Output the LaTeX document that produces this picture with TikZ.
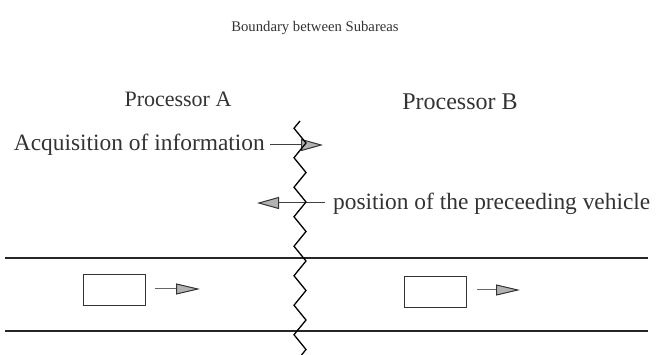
\documentclass[tikz,border=0pt]{standalone}
\usepackage{fontspec}
\setmainfont{Liberation Serif}
\usetikzlibrary{arrows.meta}
\begin{document}
\begin{tikzpicture}[x=1pt,y=-1pt,
  lbl/.style={inner sep=0pt, text=black!80},
  road/.style={line width=1.1pt, black!85},
  zig/.style={line width=1.3pt, black, line join=miter},
  bigarrow/.style={line width=1pt, black!75, -{Triangle[length=22pt,width=12pt,fill=gray!60,color=black!80]}},
  cararrow/.style={line width=1pt, black!60, -{Triangle[length=24pt,width=11pt,fill=gray!60,color=black!80]}},
  car/.style={draw=black!80, line width=1pt, minimum width=62pt, minimum height=31pt, inner sep=0pt}]
\useasboundingbox (0,0) rectangle (657,355);

% titles
\node[lbl, font=\fontsize{14.7}{16}\selectfont] (title) at (315,28) {Boundary between Subareas};
\node[lbl, font=\fontsize{22}{24}\selectfont] (procA) at (178,99) {Processor A};
\node[lbl, font=\fontsize{24}{26}\selectfont] (procB) at (460,102) {Processor B};

% messages
\node[lbl, font=\fontsize{23.4}{25}\selectfont, anchor=east] (acq) at (265,145) {Acquisition of information};
\node[lbl, font=\fontsize{23.4}{25}\selectfont, anchor=west] (pos) at (333,204) {position of the preceeding vehicle};

\coordinate (acqS) at (270,145);
\coordinate (acqE) at (323,145);
\coordinate (posS) at (325,203);
\coordinate (posE) at (257,203);
\draw[bigarrow] (acqS) -- (acqE);
\draw[bigarrow] (posS) -- (posE);

% road
\coordinate (r1a) at (5,258);  \coordinate (r1b) at (648,258);
\coordinate (r2a) at (5,331);  \coordinate (r2b) at (648,331);
\draw[road] (r1a) -- (r1b);
\draw[road] (r2a) -- (r2b);

% vehicles
\node[car] (carA) at (114,290.5) {};
\node[car] (carB) at (435.5,292) {};
\coordinate (aS) at (155,289); \coordinate (aE) at (200,289);
\coordinate (bS) at (477,290); \coordinate (bE) at (520,290);
\draw[cararrow] (aS) -- (aE);
\draw[cararrow] (bS) -- (bE);

% boundary zigzag
\draw[zig] (300,121) -- (294,128.25) -- (306,143) -- (294,157.75) -- (306,172.5)
  -- (294,187.25) -- (306,202) -- (294,216.75) -- (306,231.5) -- (294,246.25)
  -- (306,261) -- (294,275.75) -- (306,290.5) -- (294,305.25) -- (306,320)
  -- (294,334.75) -- (306,349.5) -- (301.5,355);
\end{tikzpicture}
\end{document}
